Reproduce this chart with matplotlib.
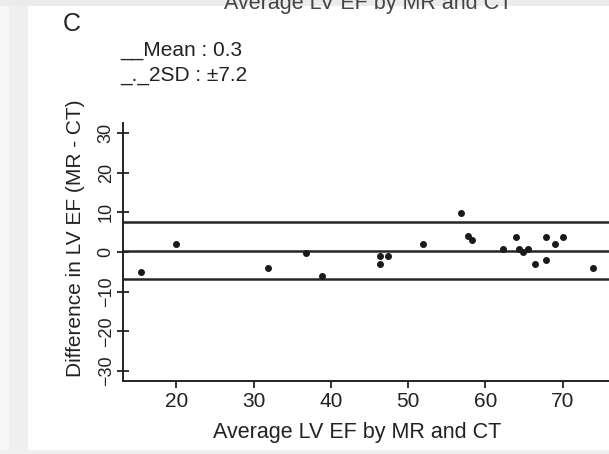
import matplotlib
matplotlib.use("Agg")
import matplotlib.pyplot as plt
from matplotlib.patches import Rectangle

plt.rcParams['font.family'] = ['Liberation Sans', 'DejaVu Sans']

# Bland-Altman data: average LV EF (MR & CT) vs difference (MR - CT)
avg_ef = [15.4, 19.9, 31.9, 36.8, 38.9, 46.3, 47.4, 46.4, 51.9, 56.9, 57.8,
          58.3, 62.3, 63.9, 64.4, 64.9, 65.5, 66.4, 67.9, 67.9, 69.0, 70.0, 73.9]
diff_ef = [-5.0, 2.0, -4.1, -0.2, -6.0, -1.0, -1.0, -3.1, 1.9, 9.9, 4.0,
           3.0, 0.8, 3.8, 0.75, -0.1, 0.75, -3.0, 3.8, -2.0, 1.9, 3.8, -4.1]
mean_diff = 0.3
two_sd = 7.2
x_ticks = [20, 30, 40, 50, 60, 70]
y_ticks = [-30, -20, -10, 0, 10, 20, 30]

W, H = 609, 454
fig = plt.figure(figsize=(W / 100, H / 100), dpi=100)

# page frame around the panel
fig.patches.append(Rectangle((0, 0), 9 / W, 1, transform=fig.transFigure,
                             facecolor='#f7f7f7', edgecolor='none', zorder=0))
fig.patches.append(Rectangle((9 / W, 0), 19 / W, 1, transform=fig.transFigure,
                             facecolor='#efefef', edgecolor='none', zorder=0))
fig.patches.append(Rectangle((0, 1 - 6 / H), 1, 6 / H, transform=fig.transFigure,
                             facecolor='#ebebeb', edgecolor='none', zorder=0))
fig.patches.append(Rectangle((0, 0), 1, 4 / H, transform=fig.transFigure,
                             facecolor='#f0f0f0', edgecolor='none', zorder=0))

left, right, bottom, top = 123, 609, 381, 123
ax = fig.add_axes([left / W, 1 - bottom / H, (right - left) / W, (bottom - top) / H])
ax.set_facecolor('none')

ax.set_xlim(13.1, 76.0)
ax.set_ylim(-32.5, 32.5)

for y in (mean_diff + two_sd, mean_diff, mean_diff - two_sd):
    ax.axhline(y, color='#262626', lw=1.8, zorder=2)

ax.plot(avg_ef, diff_ef, linestyle='none', marker='o', ms=4.0,
        color='#1a1a1a', zorder=3)

for side in ('top', 'right'):
    ax.spines[side].set_visible(False)
for side in ('left', 'bottom'):
    ax.spines[side].set_linewidth(1.4)
    ax.spines[side].set_color('#222222')

ax.set_xticks(x_ticks)
ax.set_yticks(y_ticks)
ax.tick_params(axis='x', direction='out', length=5, width=1.3, labelsize=15,
               colors='#222222', pad=3)
ax.tick_params(axis='y', direction='inout', length=8, width=1.3, labelsize=13,
               colors='#222222', pad=2)
for lab in ax.get_yticklabels():
    lab.set_rotation(90)
    lab.set_va('center')

ax.set_xlabel('Average LV EF by MR and CT', fontsize=15.5, color='#222222')
ax.xaxis.set_label_coords((357 - left) / (right - left), (bottom - 438) / (bottom - top))
ax.xaxis.label.set_va('baseline')
ax.set_ylabel('Difference in LV EF (MR - CT)', fontsize=15, color='#222222')
ax.yaxis.set_label_coords((76 - left) / (right - left), (bottom - 238) / (bottom - top))
ax.yaxis.label.set_va('center')

fig.text(368 / W, 1 - 9 / H, 'Average LV EF by MR and CT', fontsize=15.5,
         color='#444444', ha='center', va='baseline')
fig.text(63 / W, 1 - 31 / H, 'C', fontsize=18, color='#222222', va='baseline')
fig.text(120 / W, 1 - 56 / H, '__Mean : 0.3', fontsize=15, color='#222222', va='baseline')
fig.text(120 / W, 1 - 81 / H, '_._2SD : \u00b17.2', fontsize=15, color='#222222', va='baseline')

fig.savefig('out.png', dpi=100)
